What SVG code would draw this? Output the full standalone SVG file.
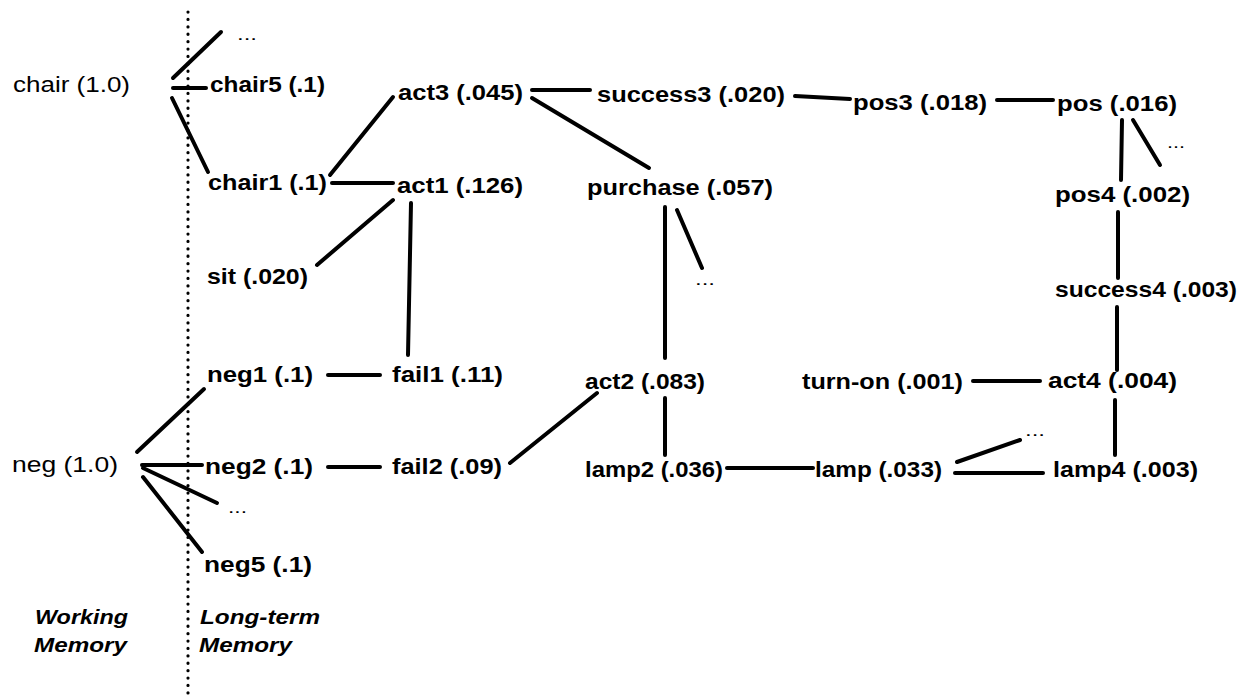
<svg xmlns="http://www.w3.org/2000/svg" width="1250" height="699" viewBox="0 0 1250 699">
  <style>
    text { font-family: "Liberation Sans", Arial, Helvetica, sans-serif; font-size: 22px; fill: #000; }
    .ltm { font-weight: bold; }
    .wm { font-weight: normal; }
    .dots { font-size: 16px; font-weight: normal; }
    .cap { font-style: italic; font-weight: bold; font-size: 20px; }
    .edge { stroke: #000; stroke-width: 4; stroke-linecap: round; fill: none; }
    .divider { stroke: #000; stroke-width: 3.2; stroke-linecap: round; stroke-dasharray: 0.1 7.3; fill: none; }
  </style>
  <rect width="1250" height="699" fill="#fff"/>

  <!-- boundary between working memory and long-term memory -->
  <line class="divider" x1="188" y1="12" x2="188" y2="699"/>

  <!-- connectors -->
  <g id="connectors">
    <line class="edge" x1="173" y1="78" x2="221" y2="32"/>
    <line class="edge" x1="173" y1="88" x2="206" y2="88"/>
    <line class="edge" x1="172" y1="98" x2="208" y2="172"/>
    <line class="edge" x1="330" y1="175" x2="393" y2="97"/>
    <line class="edge" x1="332" y1="183" x2="393" y2="183"/>
    <line class="edge" x1="317" y1="265" x2="393" y2="200"/>
    <line class="edge" x1="411" y1="203" x2="408" y2="355"/>
    <line class="edge" x1="532" y1="90" x2="590" y2="90"/>
    <line class="edge" x1="532" y1="98" x2="649" y2="168"/>
    <line class="edge" x1="795" y1="96" x2="850" y2="99"/>
    <line class="edge" x1="997" y1="100" x2="1053" y2="100"/>
    <line class="edge" x1="1133" y1="120" x2="1160" y2="165"/>
    <line class="edge" x1="1122" y1="120" x2="1121" y2="180"/>
    <line class="edge" x1="1118" y1="212" x2="1118" y2="278"/>
    <line class="edge" x1="1117" y1="307" x2="1117" y2="370"/>
    <line class="edge" x1="973" y1="381" x2="1040" y2="381"/>
    <line class="edge" x1="1115" y1="400" x2="1115" y2="455"/>
    <line class="edge" x1="665" y1="207" x2="665" y2="358"/>
    <line class="edge" x1="677" y1="210" x2="702" y2="268"/>
    <line class="edge" x1="665" y1="398" x2="665" y2="455"/>
    <line class="edge" x1="510" y1="463" x2="597" y2="393"/>
    <line class="edge" x1="727" y1="468" x2="813" y2="468"/>
    <line class="edge" x1="955" y1="473" x2="1043" y2="473"/>
    <line class="edge" x1="957" y1="462" x2="1020" y2="440"/>
    <line class="edge" x1="328" y1="375" x2="380" y2="375"/>
    <line class="edge" x1="328" y1="467" x2="380" y2="467"/>
    <line class="edge" x1="137" y1="452" x2="204" y2="389"/>
    <line class="edge" x1="142" y1="465" x2="202" y2="465"/>
    <line class="edge" x1="143" y1="468" x2="217" y2="503"/>
    <line class="edge" x1="143" y1="477" x2="202" y2="552"/>
  </g>

  <!-- working memory nodes -->
  <g id="chair"><text class="wm" x="13" y="92" textLength="117" lengthAdjust="spacingAndGlyphs">chair (1.0)</text></g>
  <g id="neg"><text class="wm" x="12" y="472" textLength="106" lengthAdjust="spacingAndGlyphs">neg (1.0)</text></g>

  <!-- long-term memory nodes -->
  <g id="chair5"><text class="ltm" x="210" y="92" textLength="115" lengthAdjust="spacingAndGlyphs">chair5 (.1)</text></g>
  <g id="chair1"><text class="ltm" x="208" y="190" textLength="119" lengthAdjust="spacingAndGlyphs">chair1 (.1)</text></g>
  <g id="sit"><text class="ltm" x="207" y="284" textLength="101" lengthAdjust="spacingAndGlyphs">sit (.020)</text></g>
  <g id="neg1"><text class="ltm" x="207" y="382" textLength="106" lengthAdjust="spacingAndGlyphs">neg1 (.1)</text></g>
  <g id="neg2"><text class="ltm" x="205" y="474" textLength="108" lengthAdjust="spacingAndGlyphs">neg2 (.1)</text></g>
  <g id="neg5"><text class="ltm" x="204" y="572" textLength="108" lengthAdjust="spacingAndGlyphs">neg5 (.1)</text></g>
  <g id="act3"><text class="ltm" x="398" y="100" textLength="125" lengthAdjust="spacingAndGlyphs">act3 (.045)</text></g>
  <g id="act1"><text class="ltm" x="397" y="193" textLength="126" lengthAdjust="spacingAndGlyphs">act1 (.126)</text></g>
  <g id="fail1"><text class="ltm" x="392" y="382" textLength="111" lengthAdjust="spacingAndGlyphs">fail1 (.11)</text></g>
  <g id="fail2"><text class="ltm" x="392" y="474" textLength="110" lengthAdjust="spacingAndGlyphs">fail2 (.09)</text></g>
  <g id="success3"><text class="ltm" x="597" y="102" textLength="188" lengthAdjust="spacingAndGlyphs">success3 (.020)</text></g>
  <g id="purchase"><text class="ltm" x="587" y="195" textLength="186" lengthAdjust="spacingAndGlyphs">purchase (.057)</text></g>
  <g id="act2"><text class="ltm" x="585" y="389" textLength="120" lengthAdjust="spacingAndGlyphs">act2 (.083)</text></g>
  <g id="lamp2"><text class="ltm" x="585" y="477" textLength="138" lengthAdjust="spacingAndGlyphs">lamp2 (.036)</text></g>
  <g id="pos3"><text class="ltm" x="853" y="110" textLength="134" lengthAdjust="spacingAndGlyphs">pos3 (.018)</text></g>
  <g id="pos"><text class="ltm" x="1057" y="111" textLength="120" lengthAdjust="spacingAndGlyphs">pos (.016)</text></g>
  <g id="pos4"><text class="ltm" x="1055" y="202" textLength="135" lengthAdjust="spacingAndGlyphs">pos4 (.002)</text></g>
  <g id="success4"><text class="ltm" x="1055" y="297" textLength="182" lengthAdjust="spacingAndGlyphs">success4 (.003)</text></g>
  <g id="turn-on"><text class="ltm" x="802" y="389" textLength="161" lengthAdjust="spacingAndGlyphs">turn-on (.001)</text></g>
  <g id="act4"><text class="ltm" x="1048" y="388" textLength="129" lengthAdjust="spacingAndGlyphs">act4 (.004)</text></g>
  <g id="lamp"><text class="ltm" x="815" y="477" textLength="127" lengthAdjust="spacingAndGlyphs">lamp (.033)</text></g>
  <g id="lamp4"><text class="ltm" x="1053" y="477" textLength="145" lengthAdjust="spacingAndGlyphs">lamp4 (.003)</text></g>

  <!-- elided further links -->
  <g id="more-chair"><text class="dots" x="237" y="40" textLength="20" lengthAdjust="spacingAndGlyphs">...</text></g>
  <g id="more-pos"><text class="dots" x="1167" y="148" textLength="18" lengthAdjust="spacingAndGlyphs">...</text></g>
  <g id="more-purchase"><text class="dots" x="695" y="285" textLength="20" lengthAdjust="spacingAndGlyphs">...</text></g>
  <g id="more-neg"><text class="dots" x="228" y="513" textLength="19" lengthAdjust="spacingAndGlyphs">...</text></g>
  <g id="more-lamp"><text class="dots" x="1025" y="436" textLength="20" lengthAdjust="spacingAndGlyphs">...</text></g>

  <!-- region captions -->
  <g id="caption-wm">
    <text class="cap" x="35" y="624" textLength="93" lengthAdjust="spacingAndGlyphs">Working</text>
    <text class="cap" x="34" y="652" textLength="93" lengthAdjust="spacingAndGlyphs">Memory</text>
  </g>
  <g id="caption-ltm">
    <text class="cap" x="200" y="624" textLength="120" lengthAdjust="spacingAndGlyphs">Long-term</text>
    <text class="cap" x="199" y="652" textLength="93" lengthAdjust="spacingAndGlyphs">Memory</text>
  </g>
</svg>
